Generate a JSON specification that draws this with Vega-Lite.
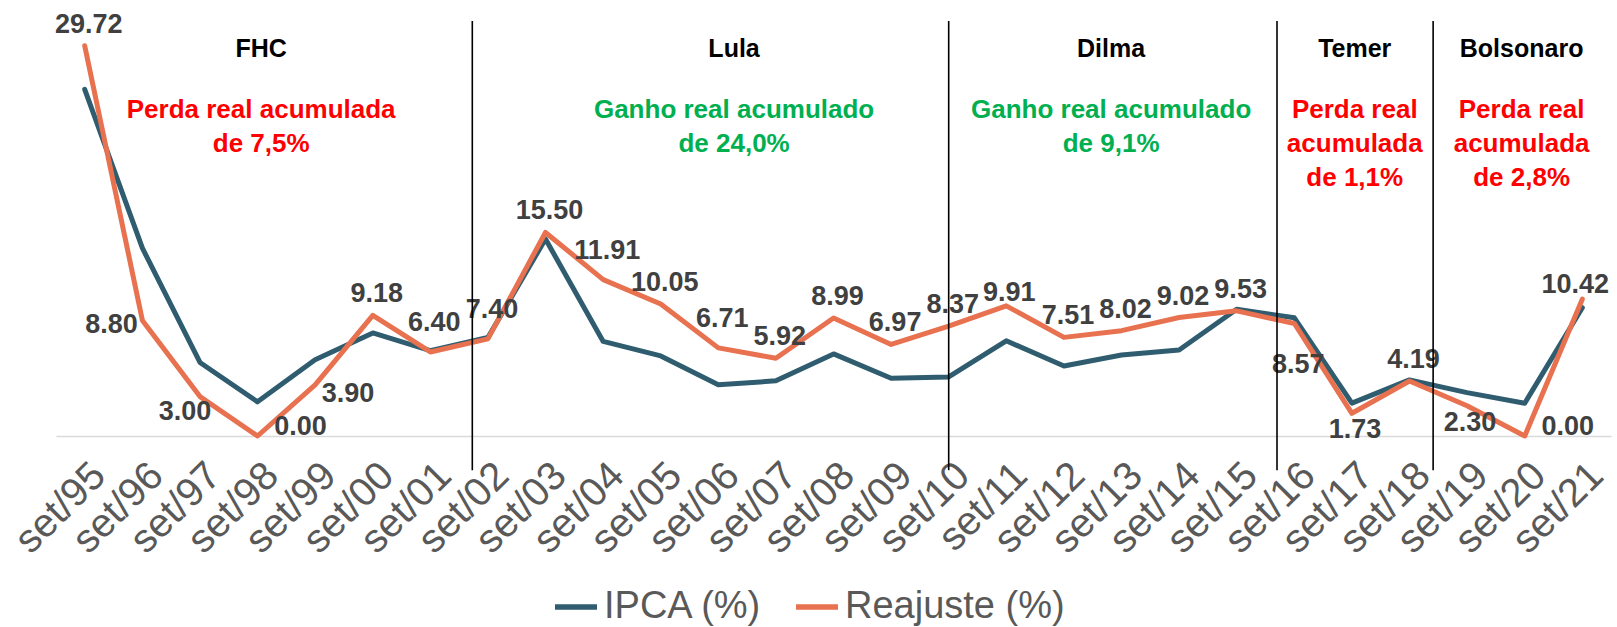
{
  "$schema": "https://vega.github.io/schema/vega-lite/v6.json",
  "width": 1555,
  "height": 436,
  "autosize": "none",
  "padding": {"left": 56, "top": 0, "right": 6, "bottom": 191},
  "background": "white",
  "config": {"view": {"stroke": null}, "font": "Liberation Sans"},
  "datasets": {
    "series": [
      {"data": "1995-09-01", "serie": "IPCA (%)", "valor": 26.4},
      {"data": "1996-09-01", "serie": "IPCA (%)", "valor": 14.3},
      {"data": "1997-09-01", "serie": "IPCA (%)", "valor": 5.6},
      {"data": "1998-09-01", "serie": "IPCA (%)", "valor": 2.6},
      {"data": "1999-09-01", "serie": "IPCA (%)", "valor": 5.8},
      {"data": "2000-09-01", "serie": "IPCA (%)", "valor": 7.85},
      {"data": "2001-09-01", "serie": "IPCA (%)", "valor": 6.5},
      {"data": "2002-09-01", "serie": "IPCA (%)", "valor": 7.5},
      {"data": "2003-09-01", "serie": "IPCA (%)", "valor": 15.0},
      {"data": "2004-09-01", "serie": "IPCA (%)", "valor": 7.2},
      {"data": "2005-09-01", "serie": "IPCA (%)", "valor": 6.1},
      {"data": "2006-09-01", "serie": "IPCA (%)", "valor": 3.9},
      {"data": "2007-09-01", "serie": "IPCA (%)", "valor": 4.2},
      {"data": "2008-09-01", "serie": "IPCA (%)", "valor": 6.25},
      {"data": "2009-09-01", "serie": "IPCA (%)", "valor": 4.4},
      {"data": "2010-09-01", "serie": "IPCA (%)", "valor": 4.5},
      {"data": "2011-09-01", "serie": "IPCA (%)", "valor": 7.25},
      {"data": "2012-09-01", "serie": "IPCA (%)", "valor": 5.33},
      {"data": "2013-09-01", "serie": "IPCA (%)", "valor": 6.17},
      {"data": "2014-09-01", "serie": "IPCA (%)", "valor": 6.55},
      {"data": "2015-09-01", "serie": "IPCA (%)", "valor": 9.65},
      {"data": "2016-09-01", "serie": "IPCA (%)", "valor": 9.0},
      {"data": "2017-09-01", "serie": "IPCA (%)", "valor": 2.5},
      {"data": "2018-09-01", "serie": "IPCA (%)", "valor": 4.27},
      {"data": "2019-09-01", "serie": "IPCA (%)", "valor": 3.3},
      {"data": "2020-09-01", "serie": "IPCA (%)", "valor": 2.5},
      {"data": "2021-09-01", "serie": "IPCA (%)", "valor": 9.77},
      {"data": "1995-09-01", "serie": "Reajuste (%)", "valor": 29.72},
      {"data": "1996-09-01", "serie": "Reajuste (%)", "valor": 8.8},
      {"data": "1997-09-01", "serie": "Reajuste (%)", "valor": 3.0},
      {"data": "1998-09-01", "serie": "Reajuste (%)", "valor": 0.0},
      {"data": "1999-09-01", "serie": "Reajuste (%)", "valor": 3.9},
      {"data": "2000-09-01", "serie": "Reajuste (%)", "valor": 9.18},
      {"data": "2001-09-01", "serie": "Reajuste (%)", "valor": 6.4},
      {"data": "2002-09-01", "serie": "Reajuste (%)", "valor": 7.4},
      {"data": "2003-09-01", "serie": "Reajuste (%)", "valor": 15.5},
      {"data": "2004-09-01", "serie": "Reajuste (%)", "valor": 11.91},
      {"data": "2005-09-01", "serie": "Reajuste (%)", "valor": 10.05},
      {"data": "2006-09-01", "serie": "Reajuste (%)", "valor": 6.71},
      {"data": "2007-09-01", "serie": "Reajuste (%)", "valor": 5.92},
      {"data": "2008-09-01", "serie": "Reajuste (%)", "valor": 8.99},
      {"data": "2009-09-01", "serie": "Reajuste (%)", "valor": 6.97},
      {"data": "2010-09-01", "serie": "Reajuste (%)", "valor": 8.37},
      {"data": "2011-09-01", "serie": "Reajuste (%)", "valor": 9.91},
      {"data": "2012-09-01", "serie": "Reajuste (%)", "valor": 7.51},
      {"data": "2013-09-01", "serie": "Reajuste (%)", "valor": 8.02},
      {"data": "2014-09-01", "serie": "Reajuste (%)", "valor": 9.02},
      {"data": "2015-09-01", "serie": "Reajuste (%)", "valor": 9.53},
      {"data": "2016-09-01", "serie": "Reajuste (%)", "valor": 8.57},
      {"data": "2017-09-01", "serie": "Reajuste (%)", "valor": 1.73},
      {"data": "2018-09-01", "serie": "Reajuste (%)", "valor": 4.19},
      {"data": "2019-09-01", "serie": "Reajuste (%)", "valor": 2.3},
      {"data": "2020-09-01", "serie": "Reajuste (%)", "valor": 0.0},
      {"data": "2021-09-01", "serie": "Reajuste (%)", "valor": 10.42}
    ],
    "cortes": [
      {"data": "2002-05-25"},
      {"data": "2010-09-01"},
      {"data": "2016-05-14"},
      {"data": "2019-01-29"}
    ],
    "governos": [
      {"governo": "FHC", "data": "1998-09-24", "tipo": "perda", "nota": ["Perda real acumulada", "de 7,5%"]},
      {"governo": "Lula", "data": "2006-12-10", "tipo": "ganho", "nota": ["Ganho real acumulado", "de 24,0%"]},
      {"governo": "Dilma", "data": "2013-06-27", "tipo": "ganho", "nota": ["Ganho real acumulado", "de 9,1%"]},
      {"governo": "Temer", "data": "2017-09-19", "tipo": "perda", "nota": ["Perda real", "acumulada", "de 1,1%"]},
      {"governo": "Bolsonaro", "data": "2020-08-12", "tipo": "perda", "nota": ["Perda real", "acumulada", "de 2,8%"]}
    ]
  },
  "layer": [
    {
      "data": {"name": "series"},
      "mark": {"type": "line", "strokeWidth": 5, "strokeJoin": "round", "strokeCap": "round"},
      "encoding": {
        "x": {
          "field": "data",
          "type": "temporal",
          "scale": {
            "type": "utc",
            "domain": [
              {"year": 1995, "month": 3, "date": 3, "utc": true},
              {"year": 2022, "month": 3, "date": 2, "utc": true}
            ]
          },
          "axis": {
            "title": null,
            "values": [
              {"year": 1995, "month": 9, "date": 1, "utc": true},
              {"year": 1996, "month": 9, "date": 1, "utc": true},
              {"year": 1997, "month": 9, "date": 1, "utc": true},
              {"year": 1998, "month": 9, "date": 1, "utc": true},
              {"year": 1999, "month": 9, "date": 1, "utc": true},
              {"year": 2000, "month": 9, "date": 1, "utc": true},
              {"year": 2001, "month": 9, "date": 1, "utc": true},
              {"year": 2002, "month": 9, "date": 1, "utc": true},
              {"year": 2003, "month": 9, "date": 1, "utc": true},
              {"year": 2004, "month": 9, "date": 1, "utc": true},
              {"year": 2005, "month": 9, "date": 1, "utc": true},
              {"year": 2006, "month": 9, "date": 1, "utc": true},
              {"year": 2007, "month": 9, "date": 1, "utc": true},
              {"year": 2008, "month": 9, "date": 1, "utc": true},
              {"year": 2009, "month": 9, "date": 1, "utc": true},
              {"year": 2010, "month": 9, "date": 1, "utc": true},
              {"year": 2011, "month": 9, "date": 1, "utc": true},
              {"year": 2012, "month": 9, "date": 1, "utc": true},
              {"year": 2013, "month": 9, "date": 1, "utc": true},
              {"year": 2014, "month": 9, "date": 1, "utc": true},
              {"year": 2015, "month": 9, "date": 1, "utc": true},
              {"year": 2016, "month": 9, "date": 1, "utc": true},
              {"year": 2017, "month": 9, "date": 1, "utc": true},
              {"year": 2018, "month": 9, "date": 1, "utc": true},
              {"year": 2019, "month": 9, "date": 1, "utc": true},
              {"year": 2020, "month": 9, "date": 1, "utc": true},
              {"year": 2021, "month": 9, "date": 1, "utc": true}
            ],
            "labelExpr": "'set/' + utcFormat(datum.value, '%y')",
            "labelAngle": -45,
            "labelAlign": "right",
            "labelBaseline": "top",
            "labelFontSize": 40,
            "labelFont": "Liberation Sans",
            "labelColor": "#595959",
            "labelPadding": 19,
            "labelOverlap": false,
            "labelBound": false,
            "labelFlush": false,
            "ticks": false,
            "grid": false,
            "domainColor": "#d9d9d9",
            "domainWidth": 1.5
          }
        },
        "y": {
          "field": "valor",
          "type": "quantitative",
          "scale": {"domain": [0, 33.2], "nice": false, "zero": false},
          "axis": null
        },
        "color": {
          "field": "serie",
          "type": "nominal",
          "scale": {"domain": ["IPCA (%)", "Reajuste (%)"], "range": ["#2f5d6f", "#e8714f"]},
          "legend": {
            "title": null,
            "orient": "none",
            "direction": "horizontal",
            "legendX": 496,
            "legendY": 583,
            "symbolType": "stroke",
            "symbolSize": 1764,
            "symbolStrokeWidth": 5.5,
            "labelFontSize": 38,
            "labelFont": "Liberation Sans",
            "labelColor": "#595959",
            "labelOffset": 4,
            "columnPadding": 22,
            "labelLimit": 400
          }
        }
      }
    },
    {
      "data": {"name": "series"},
      "transform": [{"filter": {"field": "serie", "equal": "Reajuste (%)"}}, {"filter": {"field": "valor", "oneOf": [29.72, 9.18, 15.5, 10.05, 5.92, 8.99, 6.97, 8.37, 9.02, 9.53, 4.19, 7.51, 8.02]}}],
      "mark": {"type": "text", "fontSize": 27, "fontWeight": "bold", "color": "#404040", "align": "center", "baseline": "middle", "dx": 4, "dy": -21},
      "encoding": {
        "x": {"field": "data", "type": "temporal"},
        "y": {"field": "valor", "type": "quantitative"},
        "text": {"field": "valor", "type": "quantitative", "format": ".2f"}
      }
    },
    {
      "data": {"name": "series"},
      "transform": [{"filter": {"field": "serie", "equal": "Reajuste (%)"}}, {"filter": {"field": "valor", "oneOf": [6.4, 7.4, 11.91, 6.71]}}],
      "mark": {"type": "text", "fontSize": 27, "fontWeight": "bold", "color": "#404040", "align": "center", "baseline": "middle", "dx": 4, "dy": -29},
      "encoding": {
        "x": {"field": "data", "type": "temporal"},
        "y": {"field": "valor", "type": "quantitative"},
        "text": {"field": "valor", "type": "quantitative", "format": ".2f"}
      }
    },
    {
      "data": {"name": "series"},
      "transform": [{"filter": {"field": "serie", "equal": "Reajuste (%)"}}, {"filter": {"field": "valor", "oneOf": [9.91]}}],
      "mark": {"type": "text", "fontSize": 27, "fontWeight": "bold", "color": "#404040", "align": "center", "baseline": "middle", "dx": 3, "dy": -13},
      "encoding": {
        "x": {"field": "data", "type": "temporal"},
        "y": {"field": "valor", "type": "quantitative"},
        "text": {"field": "valor", "type": "quantitative", "format": ".2f"}
      }
    },
    {
      "data": {"name": "series"},
      "transform": [{"filter": {"field": "serie", "equal": "Reajuste (%)"}}, {"filter": {"field": "valor", "oneOf": [10.42]}}],
      "mark": {"type": "text", "fontSize": 27, "fontWeight": "bold", "color": "#404040", "align": "center", "baseline": "middle", "dx": -7, "dy": -14},
      "encoding": {
        "x": {"field": "data", "type": "temporal"},
        "y": {"field": "valor", "type": "quantitative"},
        "text": {"field": "valor", "type": "quantitative", "format": ".2f"}
      }
    },
    {
      "data": {"name": "series"},
      "transform": [{"filter": {"field": "serie", "equal": "Reajuste (%)"}}, {"filter": {"field": "valor", "oneOf": [8.8]}}],
      "mark": {"type": "text", "fontSize": 27, "fontWeight": "bold", "color": "#404040", "align": "center", "baseline": "middle", "dx": -31, "dy": 5},
      "encoding": {
        "x": {"field": "data", "type": "temporal"},
        "y": {"field": "valor", "type": "quantitative"},
        "text": {"field": "valor", "type": "quantitative", "format": ".2f"}
      }
    },
    {
      "data": {"name": "series"},
      "transform": [{"filter": {"field": "serie", "equal": "Reajuste (%)"}}, {"filter": {"field": "valor", "oneOf": [3.0]}}],
      "mark": {"type": "text", "fontSize": 27, "fontWeight": "bold", "color": "#404040", "align": "center", "baseline": "middle", "dx": -15, "dy": 15},
      "encoding": {
        "x": {"field": "data", "type": "temporal"},
        "y": {"field": "valor", "type": "quantitative"},
        "text": {"field": "valor", "type": "quantitative", "format": ".2f"}
      }
    },
    {
      "data": {"name": "series"},
      "transform": [{"filter": {"field": "serie", "equal": "Reajuste (%)"}}, {"filter": {"field": "valor", "oneOf": [0.0]}}],
      "mark": {"type": "text", "fontSize": 27, "fontWeight": "bold", "color": "#404040", "align": "center", "baseline": "middle", "dx": 43, "dy": -9},
      "encoding": {
        "x": {"field": "data", "type": "temporal"},
        "y": {"field": "valor", "type": "quantitative"},
        "text": {"field": "valor", "type": "quantitative", "format": ".2f"}
      }
    },
    {
      "data": {"name": "series"},
      "transform": [{"filter": {"field": "serie", "equal": "Reajuste (%)"}}, {"filter": {"field": "valor", "oneOf": [3.9]}}],
      "mark": {"type": "text", "fontSize": 27, "fontWeight": "bold", "color": "#404040", "align": "center", "baseline": "middle", "dx": 33, "dy": 9},
      "encoding": {
        "x": {"field": "data", "type": "temporal"},
        "y": {"field": "valor", "type": "quantitative"},
        "text": {"field": "valor", "type": "quantitative", "format": ".2f"}
      }
    },
    {
      "data": {"name": "series"},
      "transform": [{"filter": {"field": "serie", "equal": "Reajuste (%)"}}, {"filter": {"field": "valor", "oneOf": [1.73, 2.3]}}],
      "mark": {"type": "text", "fontSize": 27, "fontWeight": "bold", "color": "#404040", "align": "center", "baseline": "middle", "dx": 3, "dy": 17},
      "encoding": {
        "x": {"field": "data", "type": "temporal"},
        "y": {"field": "valor", "type": "quantitative"},
        "text": {"field": "valor", "type": "quantitative", "format": ".2f"}
      }
    },
    {
      "data": {"name": "series"},
      "transform": [{"filter": {"field": "serie", "equal": "Reajuste (%)"}}, {"filter": {"field": "valor", "oneOf": [8.57]}}],
      "mark": {"type": "text", "fontSize": 27, "fontWeight": "bold", "color": "#404040", "align": "center", "baseline": "middle", "dx": 4, "dy": 42},
      "encoding": {
        "x": {"field": "data", "type": "temporal"},
        "y": {"field": "valor", "type": "quantitative"},
        "text": {"field": "valor", "type": "quantitative", "format": ".2f"}
      }
    },
    {
      "data": {"name": "cortes"},
      "mark": {"type": "rule", "color": "#000000", "strokeWidth": 1.6},
      "encoding": {
        "x": {"field": "data", "type": "temporal"},
        "y": {"datum": 31.6, "type": "quantitative"},
        "y2": {"datum": -2.6}
      }
    },
    {
      "data": {"name": "governos"},
      "mark": {"type": "text", "fontSize": 25, "fontWeight": "bold", "color": "#000000", "align": "center", "baseline": "alphabetic"},
      "encoding": {
        "x": {"field": "data", "type": "temporal"},
        "y": {"datum": 28.86, "type": "quantitative"},
        "text": {"field": "governo", "type": "nominal"}
      }
    },
    {
      "data": {"name": "governos"},
      "mark": {"type": "text", "fontSize": 26, "fontWeight": "bold", "align": "center", "baseline": "alphabetic", "lineHeight": 34},
      "encoding": {
        "x": {"field": "data", "type": "temporal"},
        "y": {"datum": 24.25, "type": "quantitative"},
        "text": {"field": "nota", "type": "nominal"},
        "color": {"condition": {"test": "datum.tipo == 'ganho'", "value": "#00b050"}, "value": "#ff0000"}
      }
    }
  ]
}
